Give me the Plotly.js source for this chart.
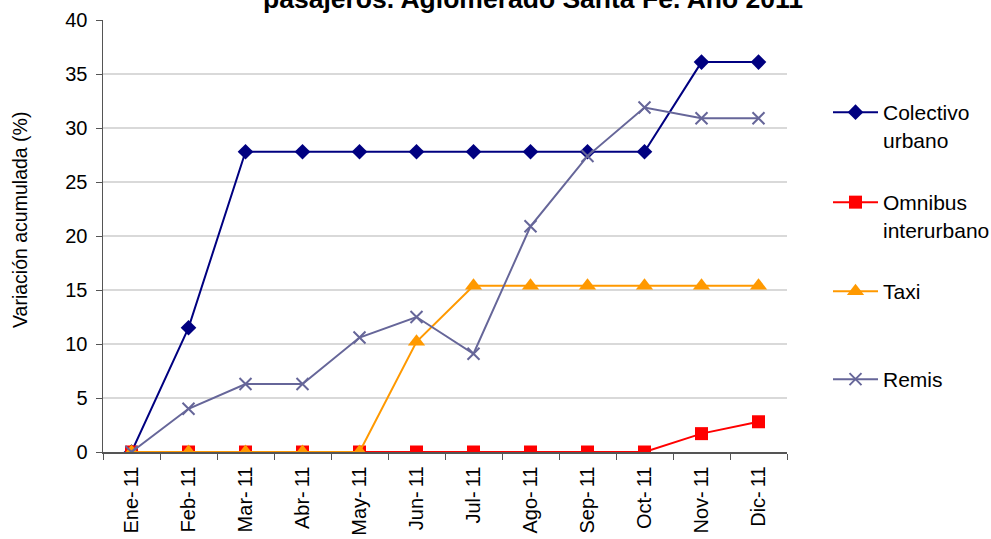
<!DOCTYPE html>
<html>
<head>
<meta charset="utf-8">
<script src="https://cdn.plot.ly/plotly-3.0.1.min.js"></script>
<style>html,body{margin:0;padding:0;background:#fff;}#chart{width:991px;height:539px;}</style>
</head>
<body>
<div id="chart"></div>
<script>
const months = ["Ene-11","Feb-11","Mar-11","Abr-11","May-11","Jun-11","Jul-11","Ago-11","Sep-11","Oct-11","Nov-11","Dic-11"];
const colectivo = [0, 11.5, 27.8, 27.8, 27.8, 27.8, 27.8, 27.8, 27.8, 27.8, 36.1, 36.1];
const omnibus = [0, 0, 0, 0, 0, 0, 0, 0, 0, 0, 1.7, 2.8];
const taxi = [0, 0, 0, 0, 0, 10.2, 15.4, 15.4, 15.4, 15.4, 15.4, 15.4];
const remis = [0, 4.0, 6.3, 6.3, 10.6, 12.5, 9.1, 20.9, 27.4, 31.9, 30.9, 30.9];
const yTicks = [0, 5, 10, 15, 20, 25, 30, 35, 40];
const titleText = "pasajeros. Aglomerado Santa Fe. Año 2011";
const yTitle = "Variación acumulada (%)";

const FONT = "Liberation Sans, Arial, sans-serif";
function tr(name, y, color, symbol, size, legend) {
  return {
    x: months, y: y, name: name, type: "scatter", mode: "lines+markers",
    line: {color: color, width: 2},
    marker: {color: color, symbol: symbol, size: size, line: {color: color, width: symbol === "x-thin" ? 2 : 0}},
    legend: legend
  };
}
const data = [
  tr("Colectivo<br>urbano", colectivo, "#000080", "diamond", 12, "legend"),
  tr("Omnibus<br>interurbano", omnibus, "#FF0000", "square", 13, "legend2"),
  tr("Taxi", taxi, "#FF9900", "triangle-up", 15, "legend3"),
  tr("Remis", remis, "#666699", "x-thin", 12, "legend4")
];
function leg(ypx) {
  return {
    x: (828 - 103) / 684, xref: "paper", xanchor: "left",
    y: (452 - ypx) / 432, yref: "paper", yanchor: "top",
    bgcolor: "rgba(0,0,0,0)", borderwidth: 0, valign: "top",
    font: {family: FONT, size: 21, color: "#000"},
    itemwidth: 45
  };
}
const layout = {
  width: 991, height: 539,
  margin: {l: 103, r: 204, t: 20, b: 87, pad: 0, autoexpand: false},
  paper_bgcolor: "#fff", plot_bgcolor: "#fff",
  font: {family: FONT, color: "#000"},
  showlegend: true,
  legend: leg(92),
  legend2: leg(182),
  legend3: leg(271),
  legend4: leg(359),
  xaxis: {
    type: "category", categoryorder: "array", categoryarray: months,
    tickvals: months, ticktext: months.map(m => m.replace("-", "-\u2009")),
    range: [-0.5, 11.5], tickangle: -90,
    tickfont: {family: FONT, size: 20, color: "#000"},
    ticks: "outside", tickson: "boundaries", ticklen: 6, tickcolor: "#555", tickwidth: 1,
    ticklabelstandoff: 5,
    showline: true, linecolor: "#555", linewidth: 1.5,
    showgrid: false, zeroline: false, automargin: false
  },
  yaxis: {
    range: [0, 40], tickvals: yTicks,
    tickfont: {family: FONT, size: 20, color: "#000"},
    ticks: "outside", ticklen: 6, tickcolor: "#555", tickwidth: 1,
    ticklabelstandoff: 4,
    showline: true, linecolor: "#555", linewidth: 1.5,
    showgrid: true, gridcolor: "#d9d9d9", gridwidth: 2,
    zeroline: false, automargin: false
  },
  annotations: [{
    text: "<b>" + titleText + "</b>", showarrow: false,
    xref: "paper", x: (533 - 103) / 684, xanchor: "center",
    yref: "paper", y: (452 + 1) / 432, yanchor: "middle",
    font: {family: FONT, size: 26.5, color: "#000"}
  }, {
    text: yTitle, showarrow: false, textangle: -90,
    xref: "paper", x: (20 - 103) / 684, xanchor: "center",
    yref: "paper", y: (452 - 220) / 432, yanchor: "middle",
    font: {family: FONT, size: 19.5, color: "#000"}
  }]
};
Plotly.newPlot("chart", data, layout, {displayModeBar: false, staticPlot: true});
</script>
</body>
</html>
